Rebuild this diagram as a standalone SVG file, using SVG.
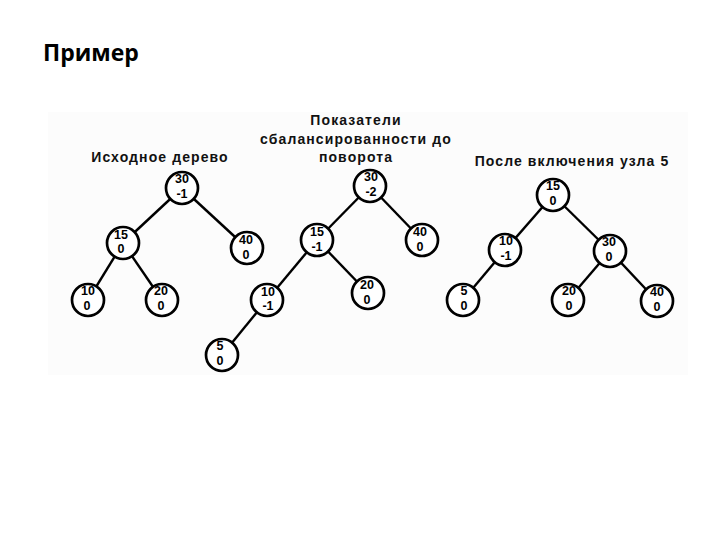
<svg xmlns="http://www.w3.org/2000/svg" width="720" height="540" viewBox="0 0 720 540">
<style>
.title{font-family:"Open Sans","Liberation Sans",sans-serif;font-weight:bold;font-size:23px;fill:#000}
.lbl{font-family:"Liberation Sans",Arial,sans-serif;font-weight:bold;font-size:14px;letter-spacing:1.1px;fill:#111;text-anchor:middle}
.node circle{fill:#fff;stroke:#000;stroke-width:2.7}
.node text{font-family:"Liberation Sans",Arial,sans-serif;font-weight:bold;font-size:12.5px;fill:#000;text-anchor:middle}
.edges line{stroke:#000;stroke-width:2.4}
</style>
<rect width="720" height="540" fill="#fff"/>
<text class="title" x="43" y="61">Пример</text>
<rect x="48" y="112" width="640" height="263" fill="#fcfcfc"/>
<text class="lbl" x="160" y="162">Исходное дерево</text>
<text class="lbl" x="356" y="125">Показатели</text>
<text class="lbl" x="356" y="144">сбалансированности до</text>
<text class="lbl" x="356" y="162">поворота</text>
<text class="lbl" x="572" y="166">После включения узла 5</text>
<g class="edges">
<line x1="182" y1="188" x2="123" y2="243"/>
<line x1="182" y1="188" x2="247" y2="248"/>
<line x1="123" y1="243" x2="88" y2="300"/>
<line x1="123" y1="243" x2="162" y2="300"/>
<line x1="370" y1="186" x2="317" y2="240"/>
<line x1="370" y1="186" x2="422" y2="240"/>
<line x1="317" y1="240" x2="267" y2="300"/>
<line x1="317" y1="240" x2="368" y2="293"/>
<line x1="267" y1="300" x2="222" y2="355"/>
<line x1="553" y1="195" x2="505" y2="250"/>
<line x1="553" y1="195" x2="610" y2="251"/>
<line x1="505" y1="250" x2="463" y2="300"/>
<line x1="610" y1="251" x2="568" y2="300"/>
<line x1="610" y1="251" x2="657" y2="301"/>
</g>
<g id="t1-30" class="node"><circle cx="182" cy="188" r="16"/><text x="182" y="183">30</text><text x="182" y="198">-1</text></g>
<g id="t1-15" class="node"><circle cx="123" cy="243" r="16"/><text x="121" y="239">15</text><text x="121" y="253">0</text></g>
<g id="t1-40" class="node"><circle cx="247" cy="248" r="16"/><text x="246" y="244">40</text><text x="246" y="259">0</text></g>
<g id="t1-10" class="node"><circle cx="88" cy="300" r="16"/><text x="88" y="295">10</text><text x="87" y="310">0</text></g>
<g id="t1-20" class="node"><circle cx="162" cy="300" r="16"/><text x="161" y="295">20</text><text x="161" y="310">0</text></g>
<g id="t2-30" class="node"><circle cx="370" cy="186" r="16"/><text x="371" y="181">30</text><text x="371" y="196">-2</text></g>
<g id="t2-15" class="node"><circle cx="317" cy="240" r="16"/><text x="317" y="236">15</text><text x="317" y="251">-1</text></g>
<g id="t2-40" class="node"><circle cx="422" cy="240" r="16"/><text x="420" y="236">40</text><text x="420" y="251">0</text></g>
<g id="t2-10" class="node"><circle cx="267" cy="300" r="16"/><text x="268" y="296">10</text><text x="268" y="310">-1</text></g>
<g id="t2-20" class="node"><circle cx="368" cy="293" r="16"/><text x="367" y="289">20</text><text x="367" y="304">0</text></g>
<g id="t2-5" class="node"><circle cx="222" cy="355" r="16"/><text x="220" y="350">5</text><text x="220" y="365">0</text></g>
<g id="t3-15" class="node"><circle cx="553" cy="195" r="16"/><text x="553" y="190">15</text><text x="553" y="205">0</text></g>
<g id="t3-10" class="node"><circle cx="505" cy="250" r="16"/><text x="506" y="245">10</text><text x="506" y="260">-1</text></g>
<g id="t3-30" class="node"><circle cx="610" cy="251" r="16"/><text x="609" y="246">30</text><text x="609" y="261">0</text></g>
<g id="t3-5" class="node"><circle cx="463" cy="300" r="16"/><text x="464" y="295">5</text><text x="464" y="310">0</text></g>
<g id="t3-20" class="node"><circle cx="568" cy="300" r="16"/><text x="569" y="295">20</text><text x="569" y="310">0</text></g>
<g id="t3-40" class="node"><circle cx="657" cy="301" r="16"/><text x="657" y="296">40</text><text x="657" y="311">0</text></g>
</svg>
